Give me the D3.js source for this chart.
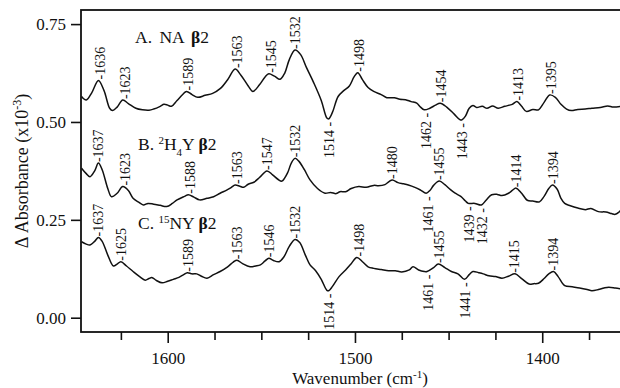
<!DOCTYPE html>
<html>
<head>
<meta charset="utf-8">
<script src="https://cdn.jsdelivr.net/npm/d3@7"></script>
<style>
  body { margin: 0; background: #fff; }
  text { font-family: "Liberation Serif", "Times New Roman", serif; fill: #111; }
</style>
</head>
<body>
<div class="chart"></div>
<script>

// spectrum A. NA beta2
const wnA = [1646, 1643.5, 1640.5, 1637, 1634, 1631, 1629.5, 1627, 1624, 1621, 1617, 1613.5, 1610, 1607.5, 1604, 1602, 1600, 1598, 1595, 1592, 1590, 1587, 1584, 1580, 1576, 1572, 1568, 1564, 1561, 1557, 1554.5, 1551, 1548, 1546, 1543, 1540, 1537.5, 1535, 1532, 1529, 1526, 1522, 1518, 1515, 1514, 1512, 1509, 1506, 1503, 1500.5, 1498.5, 1496, 1493, 1490, 1486, 1483, 1479, 1476, 1473, 1470, 1467, 1465, 1463, 1460, 1457, 1454.5, 1451, 1447, 1444, 1443, 1441, 1439, 1437, 1435, 1432, 1429.5, 1426.5, 1423.5, 1420, 1416, 1413.5, 1411, 1408.5, 1405, 1402, 1399, 1396, 1393, 1390, 1387, 1384.5, 1381, 1377, 1373.5, 1369, 1365, 1362, 1357];
const absA = [0.565, 0.556, 0.575, 0.606, 0.580, 0.535, 0.529, 0.538, 0.556, 0.547, 0.535, 0.531, 0.530, 0.533, 0.540, 0.545, 0.543, 0.540, 0.555, 0.570, 0.578, 0.570, 0.563, 0.568, 0.573, 0.585, 0.608, 0.635, 0.620, 0.592, 0.578, 0.595, 0.615, 0.623, 0.617, 0.609, 0.625, 0.660, 0.684, 0.672, 0.640, 0.600, 0.555, 0.510, 0.508, 0.525, 0.565, 0.580, 0.592, 0.615, 0.626, 0.608, 0.588, 0.578, 0.570, 0.562, 0.562, 0.558, 0.557, 0.552, 0.548, 0.538, 0.531, 0.535, 0.543, 0.548, 0.538, 0.520, 0.506, 0.505, 0.515, 0.535, 0.542, 0.537, 0.540, 0.535, 0.541, 0.535, 0.540, 0.545, 0.552, 0.540, 0.527, 0.532, 0.531, 0.550, 0.569, 0.563, 0.545, 0.533, 0.529, 0.532, 0.533, 0.535, 0.537, 0.541, 0.538, 0.541];

// spectrum B. 2H4Y beta2
const wnB = [1646, 1643.5, 1641.5, 1639, 1637, 1635, 1632, 1630, 1627, 1624, 1621, 1618.5, 1615.5, 1613, 1610.5, 1607.5, 1604, 1600.5, 1597.5, 1595, 1591, 1589, 1586, 1583, 1579, 1575.5, 1572, 1568.5, 1566, 1564, 1561.5, 1559.5, 1557, 1554, 1551, 1547, 1544, 1541, 1539, 1536, 1534, 1532, 1530, 1527, 1524, 1520, 1516, 1513, 1510, 1508, 1505, 1502, 1498, 1494, 1490, 1487.5, 1484, 1482, 1480, 1477, 1474, 1471.5, 1468, 1465, 1462, 1460, 1458, 1455, 1452, 1449, 1446.5, 1443.5, 1441, 1439.5, 1436, 1432.5, 1430, 1427, 1424, 1421.5, 1418, 1416, 1414, 1411, 1408, 1405, 1401.5, 1399, 1396.5, 1394.5, 1392, 1390, 1388, 1385, 1381, 1377, 1374, 1370, 1366, 1363, 1361, 1359, 1357];
const absB = [0.382, 0.368, 0.360, 0.375, 0.395, 0.378, 0.330, 0.309, 0.318, 0.335, 0.325, 0.305, 0.295, 0.288, 0.292, 0.290, 0.287, 0.284, 0.292, 0.301, 0.310, 0.314, 0.308, 0.301, 0.305, 0.309, 0.318, 0.326, 0.333, 0.339, 0.336, 0.333, 0.341, 0.346, 0.358, 0.375, 0.365, 0.353, 0.349, 0.370, 0.395, 0.407, 0.400, 0.378, 0.352, 0.330, 0.318, 0.320, 0.317, 0.322, 0.322, 0.330, 0.335, 0.333, 0.338, 0.337, 0.340, 0.347, 0.352, 0.345, 0.342, 0.339, 0.333, 0.326, 0.318, 0.325, 0.338, 0.349, 0.340, 0.327, 0.318, 0.310, 0.298, 0.292, 0.292, 0.288, 0.300, 0.314, 0.315, 0.312, 0.318, 0.325, 0.331, 0.318, 0.300, 0.298, 0.296, 0.310, 0.330, 0.339, 0.328, 0.305, 0.292, 0.286, 0.280, 0.276, 0.279, 0.271, 0.270, 0.266, 0.264, 0.270, 0.280];

// spectrum C. 15NY beta2
const wnC = [1646, 1643.5, 1641.5, 1639, 1637, 1635, 1632, 1629, 1627, 1625, 1622, 1618.5, 1615, 1612, 1610, 1608.5, 1606, 1603, 1600, 1597, 1594, 1591.5, 1589.5, 1587, 1584.5, 1582, 1579, 1575.5, 1572, 1568, 1565, 1563, 1560, 1556, 1553, 1550.5, 1548, 1546, 1543.5, 1540.5, 1538, 1535, 1532, 1529.5, 1526.5, 1524, 1521, 1518, 1515, 1514, 1512, 1508.5, 1505, 1502, 1499, 1496, 1493, 1490, 1486, 1482, 1478.5, 1475, 1471, 1469, 1466, 1463, 1461.5, 1458, 1455.5, 1452, 1448.5, 1445, 1441.5, 1439, 1437, 1434, 1431.5, 1428.5, 1425, 1421.5, 1418, 1414.5, 1411, 1407, 1404.5, 1402, 1399, 1396.5, 1394, 1391.5, 1388, 1384, 1380, 1376, 1373.5, 1370, 1367, 1364.5, 1361, 1357];
const absC = [0.194, 0.188, 0.186, 0.195, 0.205, 0.195, 0.160, 0.132, 0.137, 0.143, 0.132, 0.118, 0.105, 0.096, 0.100, 0.103, 0.095, 0.089, 0.093, 0.098, 0.103, 0.110, 0.115, 0.112, 0.112, 0.106, 0.101, 0.110, 0.118, 0.130, 0.142, 0.147, 0.138, 0.130, 0.132, 0.135, 0.145, 0.152, 0.146, 0.143, 0.155, 0.183, 0.200, 0.192, 0.160, 0.135, 0.120, 0.098, 0.070, 0.069, 0.080, 0.105, 0.122, 0.138, 0.154, 0.143, 0.130, 0.126, 0.123, 0.120, 0.120, 0.117, 0.122, 0.130, 0.122, 0.118, 0.118, 0.128, 0.137, 0.128, 0.118, 0.112, 0.098, 0.110, 0.118, 0.115, 0.112, 0.107, 0.105, 0.101, 0.106, 0.112, 0.100, 0.086, 0.087, 0.088, 0.100, 0.112, 0.118, 0.105, 0.082, 0.079, 0.076, 0.072, 0.069, 0.072, 0.076, 0.078, 0.076, 0.073];

// peak labels (above the trace) and dip labels (below the trace)
const peaksA = [1636, 1623, 1589, 1563, 1545, 1532, 1498, 1454, 1413, 1395];
const dipsA = [1514, 1462, 1443];
const peaksB = [1637, 1623, 1588, 1563, 1547, 1532, 1480, 1455, 1414, 1394];
const dipsB = [1461, 1439, 1432];
const peaksC = [1637, 1625, 1589, 1563, 1546, 1532, 1498, 1455, 1415, 1394];
const dipsC = [1514, 1461, 1441];

const xTicks = [1600, 1500, 1400];
const xMinorTicks = [1625, 1575, 1550, 1525, 1475, 1450, 1425, 1375];
const yTicks = [0, 0.25, 0.5, 0.75];

const margin = {top: 10, left: 81, right: -5, bottom: 56};
const width = 620 - margin.left - margin.right,
    height = 388 - margin.top - margin.bottom;

const svg = d3.select(".chart")
    .append("svg")
    .attr("width", 620)
    .attr("height", 388);

const gr = svg.append("g")
    .attr("transform", "translate(" + margin.left + "," + margin.top + ")");

const xScale = d3.scaleLinear()
    .domain([1646.3, 1355.8])
    .range([0, width]);

const yScale = d3.scaleLinear()
    .domain([-0.0365, 0.786])
    .range([height, 0]);

// axes
const xAxis = d3.axisBottom(xScale)
    .tickValues(xTicks)
    .tickSize(11)
    .tickSizeOuter(0)
    .tickPadding(9)
    .tickFormat(d3.format("d"));

const xMinor = d3.axisBottom(xScale)
    .tickValues(xMinorTicks)
    .tickSize(8)
    .tickSizeOuter(0)
    .tickFormat("");

const yAxis = d3.axisLeft(yScale)
    .tickValues(yTicks)
    .tickSize(10)
    .tickSizeOuter(0)
    .tickPadding(5)
    .tickFormat(d3.format(".2f"));

gr.append("g").attr("class", "axis x-minor")
    .attr("transform", "translate(0," + height + ")")
    .call(xMinor);

gr.append("g").attr("class", "axis x-axis")
    .attr("transform", "translate(0," + height + ")")
    .call(xAxis);

gr.append("g").attr("class", "axis y-axis")
    .call(yAxis);

gr.selectAll(".axis .domain").remove();
gr.selectAll(".axis line").attr("stroke", "#111").attr("stroke-width", 1.6);
gr.selectAll(".axis text")
    .style("font-family", "'Liberation Serif', serif")
    .style("font-size", "17px")
    .attr("fill", "#111");

// frame
gr.append("rect")
    .attr("x", 0)
    .attr("y", 0)
    .attr("width", width)
    .attr("height", height)
    .attr("fill", "none")
    .attr("stroke", "#111")
    .attr("stroke-width", 1.8);

// traces
const line = d3.line()
    .x(d => xScale(d[0]))
    .y(d => yScale(d[1]))
    .curve(d3.curveCatmullRom.alpha(0.5));

const series = [
    {wn: wnA, abs: absA, peaks: peaksA, dips: dipsA},
    {wn: wnB, abs: absB, peaks: peaksB, dips: dipsB},
    {wn: wnC, abs: absC, peaks: peaksC, dips: dipsC}
];

// local extreme of a trace around a wavenumber
function extremeAt(s, w, useMax) {
    let vals = [];
    for (let i = 0; i < s.wn.length - 1; i++) {
        if (Math.abs(s.wn[i] - w) <= 1.5) vals.push(s.abs[i]);
        if (s.wn[i] >= w && s.wn[i + 1] <= w) {
            const t = (s.wn[i] - w) / (s.wn[i] - s.wn[i + 1]);
            vals.push(s.abs[i] + t * (s.abs[i + 1] - s.abs[i]));
        }
    }
    return useMax ? d3.max(vals) : d3.min(vals);
}

series.forEach(s => {
    gr.append("path")
        .datum(d3.zip(s.wn, s.abs))
        .attr("d", line)
        .attr("fill", "none")
        .attr("stroke", "#111")
        .attr("stroke-width", 1.5);

    gr.selectAll(null)
        .data(s.peaks)
        .enter()
        .append("text")
        .attr("transform", d => "translate(" + xScale(d) + "," + (yScale(extremeAt(s, d, true)) - 1) + ") rotate(-90)")
        .attr("dy", "0.35em")
        .attr("text-anchor", "start")
        .style("font-size", "14px")
        .text(d => "-" + d);

    gr.selectAll(null)
        .data(s.dips)
        .enter()
        .append("text")
        .attr("transform", d => "translate(" + xScale(d) + "," + (yScale(extremeAt(s, d, false)) + 3) + ") rotate(-90)")
        .attr("dy", "0.35em")
        .attr("text-anchor", "end")
        .style("font-size", "14px")
        .text(d => d + " -");
});

// series names
function seriesName(x, y, parts, spacing) {
    const t = svg.append("text")
        .attr("x", x)
        .attr("y", y)
        .style("font-size", "17.5px")
        .style("word-spacing", spacing + "px");
    parts.forEach(p => {
        const ts = t.append("tspan").text(p.t);
        if (p.sup) ts.attr("baseline-shift", "super").style("font-size", "11px");
        if (p.sub) ts.attr("baseline-shift", "sub").style("font-size", "11px");
        if (p.bold) ts.style("font-weight", "bold");
    });
}

seriesName(135, 43, [{t: "A. NA "}, {t: "\u03b2", bold: true}, {t: "2"}], 3);
seriesName(138, 150, [{t: "B. "}, {t: "2", sup: true}, {t: "H"}, {t: "4", sub: true}, {t: "Y "}, {t: "\u03b2", bold: true}, {t: "2"}], 0);
seriesName(138, 229, [{t: "C. "}, {t: "15", sup: true}, {t: "NY "}, {t: "\u03b2", bold: true}, {t: "2"}], 0);

// axis titles
const xTitle = svg.append("text")
    .attr("x", 360)
    .attr("y", 384)
    .attr("text-anchor", "middle")
    .style("font-size", "17px");
xTitle.append("tspan").text("Wavenumber (cm");
xTitle.append("tspan").text("-1").attr("baseline-shift", "super").style("font-size", "11px");
xTitle.append("tspan").text(")");

const yTitle = svg.append("text")
    .attr("transform", "translate(28," + (margin.top + height / 2) + ") rotate(-90)")
    .attr("text-anchor", "middle")
    .style("font-size", "18px");
yTitle.append("tspan").text("\u0394 Absorbance (x10");
yTitle.append("tspan").text("-3").attr("baseline-shift", "super").style("font-size", "12px");
yTitle.append("tspan").text(")");

</script>
</body>
</html>
